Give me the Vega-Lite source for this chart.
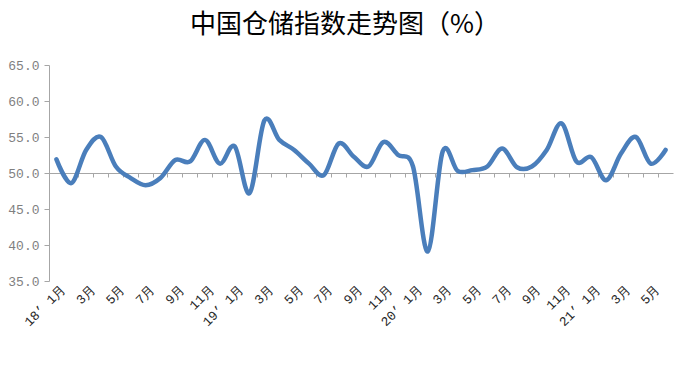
{
  "$schema": "https://vega.github.io/schema/vega-lite/v6.json",
  "autosize": {"type": "none"},
  "padding": {"left": 49, "top": 65, "right": 17, "bottom": 91},
  "width": 624,
  "height": 216,
  "background": "white",
  "title": {
    "text": "中国仓储指数走势图（%）",
    "font": "Noto Sans CJK SC",
    "fontSize": 26,
    "fontWeight": "normal",
    "color": "#000000",
    "anchor": "middle",
    "dx": -16,
    "offset": 21
  },
  "data": {
    "values": [
      {"month": "2018-01", "value": 51.9},
      {"month": "2018-02", "value": 48.6},
      {"month": "2018-03", "value": 53.2},
      {"month": "2018-04", "value": 55.0},
      {"month": "2018-05", "value": 50.9},
      {"month": "2018-06", "value": 49.3},
      {"month": "2018-07", "value": 48.3},
      {"month": "2018-08", "value": 49.3},
      {"month": "2018-09", "value": 51.8},
      {"month": "2018-10", "value": 51.6},
      {"month": "2018-11", "value": 54.6},
      {"month": "2018-12", "value": 51.3},
      {"month": "2019-01", "value": 53.7},
      {"month": "2019-02", "value": 47.2},
      {"month": "2019-03", "value": 57.3},
      {"month": "2019-04", "value": 54.6},
      {"month": "2019-05", "value": 53.2},
      {"month": "2019-06", "value": 51.3},
      {"month": "2019-07", "value": 49.7},
      {"month": "2019-08", "value": 54.1},
      {"month": "2019-09", "value": 52.3},
      {"month": "2019-10", "value": 50.9},
      {"month": "2019-11", "value": 54.3},
      {"month": "2019-12", "value": 52.5},
      {"month": "2020-01", "value": 50.9},
      {"month": "2020-02", "value": 39.1},
      {"month": "2020-03", "value": 53.0},
      {"month": "2020-04", "value": 50.3},
      {"month": "2020-05", "value": 50.4},
      {"month": "2020-06", "value": 50.9},
      {"month": "2020-07", "value": 53.4},
      {"month": "2020-08", "value": 50.8},
      {"month": "2020-09", "value": 50.9},
      {"month": "2020-10", "value": 53.2},
      {"month": "2020-11", "value": 56.9},
      {"month": "2020-12", "value": 51.6},
      {"month": "2021-01", "value": 52.2},
      {"month": "2021-02", "value": 49.0},
      {"month": "2021-03", "value": 52.7},
      {"month": "2021-04", "value": 55.0},
      {"month": "2021-05", "value": 51.3},
      {"month": "2021-06", "value": 53.2}
    ]
  },
  "mark": {
    "type": "line",
    "interpolate": "cardinal",
    "color": "#4A7EBB",
    "strokeWidth": 4.5,
    "strokeCap": "round",
    "strokeJoin": "round"
  },
  "encoding": {
    "x": {
      "field": "month",
      "type": "ordinal",
      "sort": null,
      "scale": {"type": "band", "paddingInner": 0, "paddingOuter": 0},
      "axis": {
        "title": null,
        "offset": -108,
        "bandPosition": 0,
        "tickExtra": true,
        "labelOffset": 7,
        "labelPadding": 110,
        "tickSize": 4,
        "tickColor": "#a6a6a6",
        "domainColor": "#a6a6a6",
        "labelAngle": -45,
        "labelAlign": "right",
        "labelBaseline": "middle",
        "labelFont": "Liberation Mono",
        "labelFontSize": 13,
        "labelColor": "#262626",
        "labelOverlap": false,
        "labelExpr": "toNumber(substring(datum.value, 5, 7)) == 1 ? substring(datum.value, 2, 4) + '’ 1月' : (toNumber(substring(datum.value, 5, 7)) % 2 == 1 ? toNumber(substring(datum.value, 5, 7)) + '月' : '')"
      }
    },
    "y": {
      "field": "value",
      "type": "quantitative",
      "scale": {"domain": [35, 65], "nice": false, "zero": false},
      "axis": {
        "title": null,
        "values": [35, 40, 45, 50, 55, 60, 65],
        "format": ".1f",
        "grid": false,
        "tickSize": 5,
        "tickColor": "#a6a6a6",
        "domainColor": "#a6a6a6",
        "labelFont": "Liberation Mono",
        "labelFontSize": 13,
        "labelColor": "#7f7f7f",
        "labelPadding": 5
      }
    }
  },
  "config": {"view": {"stroke": null}}
}
